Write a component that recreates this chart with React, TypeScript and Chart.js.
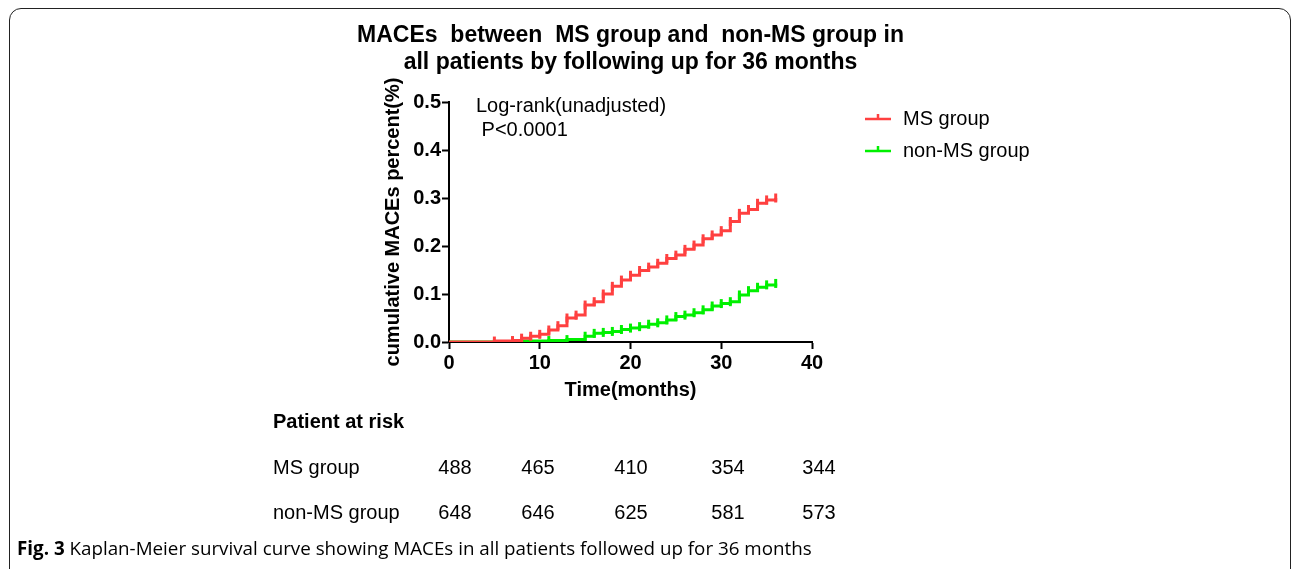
import React, { useEffect, useRef } from "react";
import { Chart, registerables } from "chart.js";

Chart.register(...registerables);

// ---- data ----
const msTimes = [0, 5, 7, 8, 9, 10, 11, 12, 13, 14, 15, 16, 17, 18, 19, 20, 21, 22, 23, 24, 25, 26, 27, 28, 29, 30, 31, 32, 33, 34, 35, 36];
const msValues = [0, 0.002, 0.003, 0.008, 0.012, 0.016, 0.025, 0.034, 0.05, 0.056, 0.077, 0.084, 0.1, 0.116, 0.129, 0.139, 0.149, 0.156, 0.164, 0.174, 0.181, 0.193, 0.202, 0.215, 0.223, 0.232, 0.251, 0.268, 0.276, 0.289, 0.296, 0.3];
const nonMsTimes = [0, 7, 11, 13, 15, 16, 17, 18, 19, 20, 21, 22, 23, 24, 25, 26, 27, 28, 29, 30, 31, 32, 33, 34, 35, 36];
const nonMsValues = [0, 0.002, 0.003, 0.005, 0.012, 0.018, 0.02, 0.022, 0.026, 0.029, 0.032, 0.037, 0.04, 0.046, 0.053, 0.056, 0.061, 0.067, 0.075, 0.08, 0.084, 0.098, 0.107, 0.114, 0.119, 0.122];
const xTickValues = [0, 10, 20, 30, 40];
const yTickValues = [0, 0.1, 0.2, 0.3, 0.4, 0.5];
const seriesLabels = ["MS group", "non-MS group"];
const riskTitle = "Patient at risk";
const riskGroups = ["MS group", "non-MS group"];
const msAtRisk = [488, 465, 410, 354, 344];
const nonMsAtRisk = [648, 646, 625, 581, 573];
const titleLines = ["MACEs  between  MS group and  non-MS group in", "all patients by following up for 36 months"];
const statLines = ["Log-rank(unadjusted)", " P<0.0001"];
const yTitle = "cumulative MACEs percent(%)";
const xTitle = "Time(months)";
const captionBold = "Fig. 3";
const captionText = " Kaplan-Meier survival curve showing MACEs in all patients followed up for 36 months";

const RED = "#ff4040";
const GREEN = "#00f000";
const FAMILY = "'Liberation Sans', Arial, Helvetica, sans-serif";
const colors = [RED, GREEN];

const textPlugin = {
  id: "kmText",
  afterDraw(chart: any) {
    const ctx: CanvasRenderingContext2D = chart.ctx;
    const area = chart.chartArea;
    ctx.save();
    ctx.fillStyle = "#000";
    ctx.textBaseline = "middle";

    // title
    ctx.font = `bold 23px ${FAMILY}`;
    ctx.textAlign = "center";
    const cx = (area.left + area.right) / 2;
    ctx.fillText(titleLines[0], cx, 36);
    ctx.fillText(titleLines[1], cx, 63);

    // stats
    ctx.font = `20px ${FAMILY}`;
    ctx.textAlign = "left";
    ctx.fillText(statLines[0], area.left + 27, 106);
    ctx.fillText(statLines[1], area.left + 27, 130);

    // legend
    const legY = [119, 151];
    seriesLabels.forEach((lab, i) => {
      const y = legY[i];
      ctx.strokeStyle = colors[i];
      ctx.lineWidth = 2.5;
      ctx.beginPath();
      ctx.moveTo(865, y);
      ctx.lineTo(891, y);
      ctx.moveTo(878, y);
      ctx.lineTo(878, y - 5);
      ctx.stroke();
      ctx.fillStyle = "#000";
      ctx.font = `20px ${FAMILY}`;
      ctx.fillText(lab, 903, y);
    });

    // risk table
    ctx.font = `bold 20px ${FAMILY}`;
    ctx.fillText(riskTitle, 273, 422);
    ctx.font = `20px ${FAMILY}`;
    const rowY = [468, 513];
    const colX = [455, 538, 631, 728, 819];
    [msAtRisk, nonMsAtRisk].forEach((row, r) => {
      ctx.textAlign = "left";
      ctx.fillText(riskGroups[r], 273, rowY[r]);
      ctx.textAlign = "center";
      row.forEach((v, c) => ctx.fillText(String(v), colX[c], rowY[r]));
    });

    // caption
    ctx.textAlign = "left";
    ctx.font = `bold 18.8px 'Open Sans', sans-serif`;
    ctx.fillText(captionBold, 17, 550);
    const w = ctx.measureText(captionBold).width;
    ctx.font = `18.8px 'Open Sans', sans-serif`;
    ctx.fillText(captionText, 17 + w, 550);
    ctx.restore();
  },
};

export default function App() {
  const ref = useRef<HTMLCanvasElement | null>(null);
  useEffect(() => {
    if (!ref.current) return;
    const mk = (times: number[], vals: number[], color: string, label: string) => ({
      label,
      data: times.map((t, i) => ({ x: t, y: vals[i] })),
      borderColor: color,
      backgroundColor: color,
      borderWidth: 3,
      stepped: true,
      fill: false,
      pointStyle: "line",
      pointRotation: 90,
      pointRadius: (c: any) => (c.dataIndex === 0 ? 0 : 4.5),
      pointHoverRadius: 0,
      pointBorderWidth: 3,
      pointBorderColor: color,
    });
    const chart = new Chart(ref.current, {
      type: "line",
      data: {
        datasets: [
          mk(msTimes, msValues, RED, seriesLabels[0]),
          mk(nonMsTimes, nonMsValues, GREEN, seriesLabels[1]),
        ] as any,
      },
      options: {
        animation: false,
        responsive: false,
        maintainAspectRatio: false,
        events: [],
        layout: { padding: { left: 369, right: 480, top: 102, bottom: 167 } },
        plugins: {
          legend: { display: false },
          title: { display: false },
          tooltip: { enabled: false },
        },
        scales: {
          x: {
            type: "linear",
            min: 0,
            max: 40,
            afterBuildTicks: (s: any) => {
              s.ticks = xTickValues.map((v) => ({ value: v }));
            },
            afterFit: (s: any) => {
              s.height = 60;
            },
            ticks: {
              font: { family: FAMILY, size: 20, weight: "bold" },
              color: "#000",
              padding: 2,
              maxRotation: 0,
              autoSkip: false,
            },
            grid: { drawOnChartArea: false, tickLength: 7, tickWidth: 2, tickColor: "#000" },
            border: { color: "#000", width: 2 },
            title: {
              display: true,
              text: xTitle,
              color: "#000",
              font: { family: FAMILY, size: 20, weight: "bold" },
              padding: { top: 0, bottom: 0 },
            },
          },
          y: {
            type: "linear",
            min: 0,
            max: 0.5,
            afterBuildTicks: (s: any) => {
              s.ticks = yTickValues.map((v) => ({ value: v }));
            },
            afterFit: (s: any) => {
              s.width = 80;
            },
            ticks: {
              font: { family: FAMILY, size: 20, weight: "bold" },
              color: "#000",
              padding: 1,
              autoSkip: false,
              callback: (v: any) => Number(v).toFixed(1),
            },
            grid: { drawOnChartArea: false, tickLength: 7, tickWidth: 2, tickColor: "#000" },
            border: { color: "#000", width: 2 },
            title: {
              display: true,
              text: yTitle,
              color: "#000",
              font: { family: FAMILY, size: 20, weight: "bold" },
              padding: { top: 12, bottom: 0 },
            },
          },
        },
      } as any,
      plugins: [textPlugin],
    });
    return () => chart.destroy();
  }, []);

  return (
    <div style={{ position: "fixed", left: 0, top: 0, width: 1292, height: 569, overflow: "hidden", background: "#fff" }}>
      <div
        style={{
          position: "absolute",
          left: 9,
          top: 8,
          width: 1282,
          height: 620,
          border: "1.5px solid #222",
          borderRadius: 12,
          boxSizing: "border-box",
        }}
      />
      <canvas ref={ref} width={1292} height={569} style={{ position: "absolute", left: 0, top: 0, width: 1292, height: 569 }} />
    </div>
  );
}
